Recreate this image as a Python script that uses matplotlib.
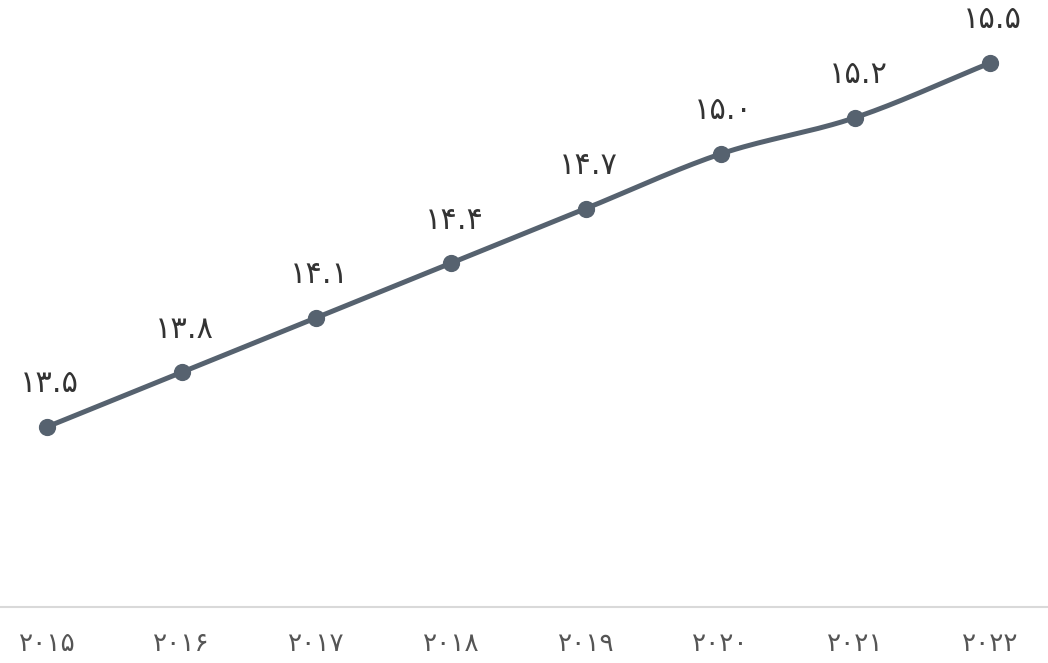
import numpy as np
import matplotlib.pyplot as plt

years = [2015, 2016, 2017, 2018, 2019, 2020, 2021, 2022]
values = [13.5, 13.8, 14.1, 14.4, 14.7, 15.0, 15.2, 15.5]

fa_digits = str.maketrans("0123456789", "۰۱۲۳۴۵۶۷۸۹")


def fa(s):
    return str(s).translate(fa_digits)


def smooth(x, y, n=30, t=0.5):
    # catmull-rom style curve through the points
    x = np.asarray(x, float)
    y = np.asarray(y, float)
    px = np.concatenate([[2 * x[0] - x[1]], x, [2 * x[-1] - x[-2]]])
    py = np.concatenate([[2 * y[0] - y[1]], y, [2 * y[-1] - y[-2]]])
    xs, ys = [], []
    for i in range(1, len(px) - 2):
        s = np.linspace(0, 1, n)
        h00 = 2 * s**3 - 3 * s**2 + 1
        h10 = s**3 - 2 * s**2 + s
        h01 = -2 * s**3 + 3 * s**2
        h11 = s**3 - s**2
        mx0 = t * (px[i + 1] - px[i - 1])
        mx1 = t * (px[i + 2] - px[i])
        my0 = t * (py[i + 1] - py[i - 1])
        my1 = t * (py[i + 2] - py[i])
        xs.append(h00 * px[i] + h10 * mx0 + h01 * px[i + 1] + h11 * mx1)
        ys.append(h00 * py[i] + h10 * my0 + h01 * py[i + 1] + h11 * my1)
    return np.concatenate(xs), np.concatenate(ys)


plt.rcParams['font.family'] = ['DejaVu Sans']

fig = plt.figure(figsize=(10.48, 6.63), dpi=100)
ax = fig.add_axes([0, 56 / 663, 1, 607 / 663])

color = "#56626f"
sx, sy = smooth(years, values)
ax.plot(sx, sy, color=color, linewidth=3.6, solid_capstyle="round", zorder=2)
ax.scatter(years, values, s=130, color=color, zorder=3)

for x, v in zip(years, values):
    ax.annotate(fa(f"{v:.1f}"), (x, v), xytext=(2, 31), textcoords="offset points",
                ha="center", va="center", fontsize=22, color="#333333")

ax.set_xlim(2015 - 0.349, 2022.43)
ax.set_ylim(12.51, 15.846)

for s in ["top", "left", "right"]:
    ax.spines[s].set_visible(False)
ax.spines["bottom"].set_color("#d9d9d9")
ax.spines["bottom"].set_linewidth(1.5)
ax.set_yticks([])
ax.set_xticks(years)
ax.set_xticklabels([fa(y) for y in years], fontsize=19, color="#555555")
ax.tick_params(axis="x", length=0, pad=17)

fig.savefig("out.png", dpi=100)
